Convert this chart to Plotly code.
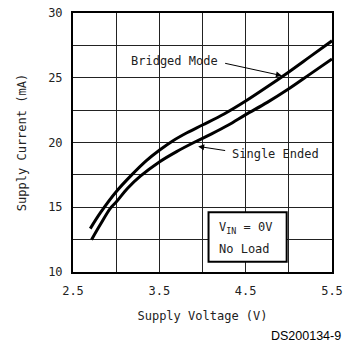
import plotly.graph_objects as go

# Supply current vs supply voltage, two operating modes
bridged_v = [2.70, 2.82, 3.00, 3.18, 3.35, 3.50, 3.65, 3.82, 4.00, 4.25, 4.50, 4.75, 5.00, 5.25, 5.50]
bridged_i = [13.35, 14.6, 16.2, 17.5, 18.6, 19.4, 20.1, 20.75, 21.35, 22.2, 23.2, 24.3, 25.45, 26.65, 27.85]

single_v = [2.715, 2.82, 2.93, 3.00, 3.13, 3.28, 3.50, 3.70, 3.90, 4.10, 4.30, 4.50, 4.75, 5.00, 5.25, 5.50]
single_i = [12.5, 13.7, 14.9, 15.4, 16.45, 17.4, 18.5, 19.3, 20.0, 20.65, 21.35, 22.15, 23.1, 24.15, 25.3, 26.45]

x_grid = [2.5, 3.0, 3.5, 4.0, 4.5, 5.0, 5.5]
x_labels = ["2.5", "", "3.5", "", "4.5", "", "5.5"]
y_grid = [10, 12.5, 15, 17.5, 20, 22.5, 25, 27.5, 30]
y_labels = ["10", "", "15", "", "20", "", "25", "", "30"]

MONO = "DejaVu Sans Mono"
INK = "#222222"

fig = go.Figure()
for vs, cur in ((bridged_v, bridged_i), (single_v, single_i)):
    fig.add_trace(go.Scatter(
        x=vs, y=cur, mode="lines",
        line=dict(color="black", width=3, shape="spline", smoothing=1.0),
        hoverinfo="skip",
    ))

axis_common = dict(
    showgrid=True, gridcolor="#222222", gridwidth=1,
    showline=True, linecolor="black", linewidth=2, mirror=True,
    ticks="", zeroline=False, automargin=False,
    tickfont=dict(family=MONO, size=12, color=INK),
    title_font=dict(family=MONO, size=12, color=INK),
)

fig.update_layout(
    width=348, height=345,
    margin=dict(l=73, r=16, t=13, b=73),
    paper_bgcolor="white", plot_bgcolor="white",
    showlegend=False,
    xaxis=dict(range=[2.5, 5.5], tickmode="array", tickvals=x_grid, ticktext=x_labels,
               ticklabelstandoff=7,
               title=dict(text="Supply Voltage (V)", standoff=14), **axis_common),
    yaxis=dict(range=[10, 30], tickmode="array", tickvals=y_grid, ticktext=y_labels,
               ticklabelstandoff=6,
               title=dict(text="Supply Current (mA)", standoff=19), **axis_common),
)

# condition box
fig.add_shape(type="rect", x0=4.07, x1=4.975, y0=10.8, y1=14.62,
              line=dict(color="black", width=2), fillcolor="white", layer="above")
fig.add_annotation(x=4.17, y=13.4, xanchor="left", yanchor="middle", showarrow=False,
                   text="V<sub>IN</sub> = 0V", font=dict(family=MONO, size=12, color=INK))
fig.add_annotation(x=4.17, y=11.8, xanchor="left", yanchor="middle", showarrow=False,
                   text="No Load", font=dict(family=MONO, size=12, color=INK))

# curve labels with pointer arrows
fig.add_annotation(x=3.67, y=26.3, showarrow=False, text="Bridged Mode",
                   font=dict(family=MONO, size=12, color=INK))
fig.add_annotation(x=4.92, y=25.16, ax=4.245, ay=26.14, axref="x", ayref="y",
                   xref="x", yref="y", text="", showarrow=True,
                   arrowhead=2, arrowsize=1.2, arrowwidth=1, arrowcolor="black")
fig.add_annotation(x=4.85, y=19.1, showarrow=False, text="Single Ended",
                   font=dict(family=MONO, size=12, color=INK))
fig.add_annotation(x=3.95, y=19.7, ax=4.28, ay=19.36, axref="x", ayref="y",
                   xref="x", yref="y", text="", showarrow=True,
                   arrowhead=2, arrowsize=1.2, arrowwidth=1, arrowcolor="black")

# figure reference number, positioned relative to the plot area
fig.add_annotation(x=(343 - 73) / 259.0, y=(272 - 336) / 259.0,
                   xref="paper", yref="paper", showarrow=False,
                   text="DS200134-9", xanchor="right", yanchor="middle",
                   font=dict(family="Liberation Sans", size=12.5, color="black"))

fig.write_html("out.html")
